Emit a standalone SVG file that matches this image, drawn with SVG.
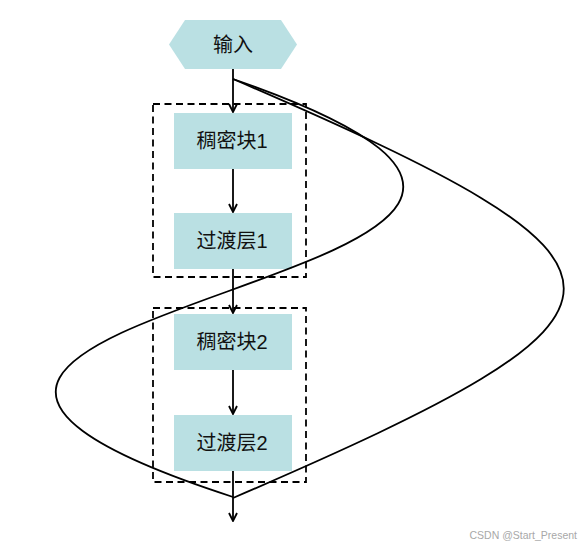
<svg xmlns="http://www.w3.org/2000/svg" width="581" height="548" viewBox="0 0 581 548">
<style>
.node{fill:#bae0e3;}
.lbl{font-family:"Liberation Sans","Noto Sans CJK SC",sans-serif;font-size:20px;fill:#111;text-anchor:middle;dominant-baseline:central;}
.grp{fill:none;stroke:#000;stroke-width:1.8;stroke-dasharray:7 4.5;}
.edge{fill:none;stroke:#000;stroke-width:1.8;}
.wm{font-family:"Liberation Sans",sans-serif;font-size:10.5px;fill:#a8a8a8;text-anchor:end;}
</style>
<defs>
<marker id="arr" viewBox="0 0 10 10" refX="9" refY="5" markerWidth="10" markerHeight="10" markerUnits="userSpaceOnUse" orient="auto">
<path d="M1,1 L9,5 L1,9" fill="none" stroke="#000" stroke-width="1.8"/>
</marker>
</defs>
<rect width="581" height="548" fill="#fff"/>
<g id="groups">
<rect class="grp" x="153" y="104" width="153" height="173"/>
<rect class="grp" x="153" y="308" width="153" height="174"/>
</g>
<g id="input"><polygon class="node" points="169,44.5 185,20 281,20 297,44.5 281,69 185,69"/><text class="lbl" x="233" y="44.5">输入</text></g>
<g id="dense1"><rect class="node" x="174" y="113" width="118" height="56"/><text class="lbl" x="232" y="141">稠密块1</text></g>
<g id="trans1"><rect class="node" x="174" y="213" width="118" height="56"/><text class="lbl" x="232" y="241">过渡层1</text></g>
<g id="dense2"><rect class="node" x="174" y="314" width="118" height="56"/><text class="lbl" x="232" y="342">稠密块2</text></g>
<g id="trans2"><rect class="node" x="174" y="415" width="118" height="56"/><text class="lbl" x="232" y="443">过渡层2</text></g>
<g id="connectors">
<line class="edge" x1="233" y1="69" x2="233" y2="112" marker-end="url(#arr)"/>
<line class="edge" x1="233" y1="169" x2="233" y2="212" marker-end="url(#arr)"/>
<line class="edge" x1="233" y1="269" x2="233" y2="313" marker-end="url(#arr)"/>
<line class="edge" x1="233" y1="370" x2="233" y2="414" marker-end="url(#arr)"/>
<line class="edge" x1="233" y1="471" x2="233" y2="521" marker-end="url(#arr)"/>
<path class="edge" d="M233,79 C828,285 -376,300 233,497"/>
<path class="edge" d="M233,79 C674,269 674,308 233,498"/>
</g>
<text class="wm" x="577" y="539">CSDN @Start_Present</text>
</svg>
